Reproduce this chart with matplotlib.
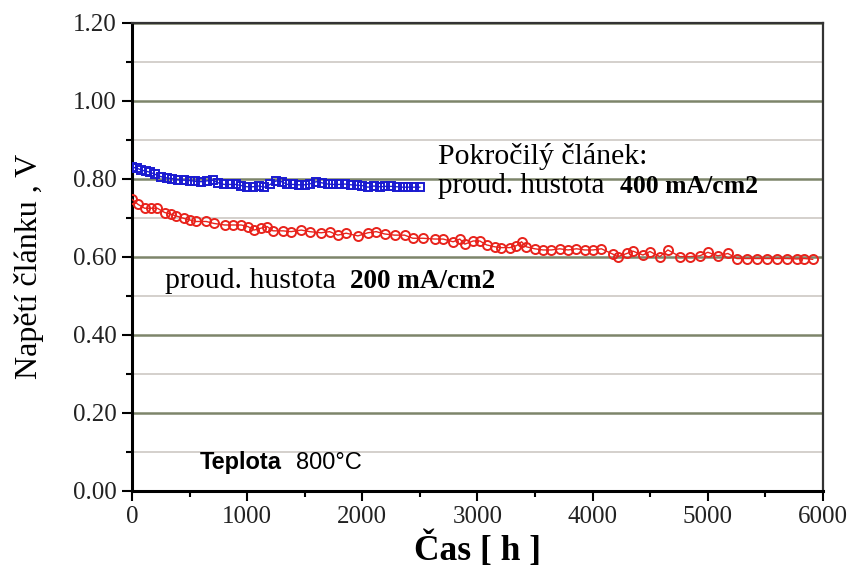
import numpy as np
from matplotlib import pyplot as plt
from matplotlib.ticker import MultipleLocator, FormatStrFormatter

# pokrocily clanek, 400 mA/cm2
t_blue = [0, 40, 80, 120, 160, 200, 250, 300, 350, 400, 450, 500, 550, 600,
          650, 700, 750, 800, 850, 900, 950, 1000, 1050, 1100, 1150, 1200,
          1250, 1300, 1350, 1400, 1450, 1500, 1550, 1600, 1650, 1700, 1750,
          1800, 1850, 1900, 1950, 2000, 2050, 2100, 2150, 2200, 2250, 2300,
          2350, 2400, 2450, 2500]
u_blue = [0.830, 0.828, 0.823, 0.820, 0.817, 0.812, 0.806, 0.803, 0.801, 0.798,
          0.797, 0.796, 0.794, 0.793, 0.795, 0.797, 0.790, 0.786, 0.786, 0.786,
          0.783, 0.780, 0.780, 0.782, 0.779, 0.786, 0.795, 0.793, 0.786, 0.786,
          0.785, 0.785, 0.788, 0.793, 0.790, 0.787, 0.786, 0.786, 0.787, 0.785,
          0.784, 0.783, 0.779, 0.782, 0.780, 0.781, 0.781, 0.780, 0.779, 0.779,
          0.779, 0.779]

# standardni clanek, 200 mA/cm2
t_red = [0, 52, 110, 162, 220, 284, 336, 385, 451, 501, 553, 645, 712, 805,
         877, 949, 1007, 1059, 1122, 1174, 1224, 1311, 1383, 1470, 1542, 1643,
         1716, 1788, 1860, 1962, 2048, 2121, 2194, 2280, 2367, 2439, 2526, 2630,
         2702, 2789, 2847, 2890, 2963, 3021, 3079, 3151, 3209, 3281, 3339, 3383,
         3426, 3498, 3570, 3643, 3715, 3787, 3860, 3932, 4004, 4077, 4178, 4220,
         4298, 4350, 4437, 4498, 4584, 4654, 4758, 4845, 4931, 5001, 5088, 5175,
         5253, 5340, 5427, 5513, 5600, 5687, 5774, 5840, 5911]
u_red = [0.748, 0.735, 0.725, 0.725, 0.725, 0.714, 0.710, 0.705, 0.699, 0.695,
         0.691, 0.691, 0.686, 0.682, 0.682, 0.682, 0.678, 0.669, 0.674, 0.678,
         0.667, 0.667, 0.665, 0.669, 0.665, 0.662, 0.665, 0.656, 0.661, 0.654,
         0.662, 0.665, 0.659, 0.656, 0.656, 0.648, 0.648, 0.646, 0.646, 0.639,
         0.646, 0.633, 0.641, 0.641, 0.631, 0.626, 0.624, 0.624, 0.629, 0.639,
         0.626, 0.621, 0.618, 0.618, 0.621, 0.618, 0.621, 0.618, 0.618, 0.621,
         0.607, 0.601, 0.609, 0.615, 0.605, 0.614, 0.601, 0.618, 0.601, 0.601,
         0.603, 0.612, 0.603, 0.609, 0.596, 0.596, 0.596, 0.596, 0.596, 0.596,
         0.595, 0.596, 0.594]

serif = 'Liberation Serif'

fig = plt.figure(figsize=(8.53, 5.74), dpi=100)
ax = fig.add_axes([0.1547, 0.1446, 0.81, 0.8154])

ax.set_xlim(0, 6000)
ax.set_ylim(0, 1.2)

# horizontal grid: major every 0.2, minor every 0.1
ax.yaxis.set_major_locator(MultipleLocator(0.2))
ax.yaxis.set_minor_locator(MultipleLocator(0.1))
ax.xaxis.set_major_locator(MultipleLocator(1000))
ax.xaxis.set_minor_locator(MultipleLocator(500))
ax.yaxis.set_major_formatter(FormatStrFormatter('%.2f'))
ax.grid(axis='y', which='major', color='#7d856a', lw=1.8, zorder=0)
ax.grid(axis='y', which='minor', color='#d4d0cc', lw=1.4, zorder=0)
ax.set_axisbelow(True)

ax.plot(t_red, u_red, color='#e8231c', lw=1.0, marker='o', ms=6.5,
        mfc='none', mec='#e8231c', mew=1.4, zorder=3)
ax.plot(t_blue, u_blue, color='#1a1ad0', lw=1.0, marker='s', ms=6,
        mfc='none', mec='#1a1ad0', mew=1.4, zorder=3)

for s in ['left', 'bottom']:
    ax.spines[s].set_linewidth(2.2)
    ax.spines[s].set_color('black')
for s in ['top', 'right']:
    ax.spines[s].set_linewidth(1.6)
    ax.spines[s].set_color('#333333')

ax.tick_params(which='major', direction='out', length=7, width=1.5,
               labelsize=18, pad=4)
ax.tick_params(which='minor', direction='out', length=4, width=1.5)
ax.tick_params(top=False, right=False, which='both')
for lb in ax.get_xticklabels() + ax.get_yticklabels():
    lb.set_fontfamily(serif)
    lb.set_color('#222222')

ax.set_ylabel('Napětí článku , V', fontsize=23, family=serif)
ax.yaxis.set_label_coords(-0.128, 0.479)
ax.set_xlabel('Čas [ h ]', fontsize=25.5, family=serif, fontweight='bold',
              labelpad=2)

# popisky
ax.text(2656, 0.838, 'Pokročilý článek:', fontsize=21.5, family=serif,
        va='baseline')
ax.text(2656, 0.764, 'proud. hustota', fontsize=21, family=serif,
        va='baseline')
ax.text(4236, 0.764, '400 mA/cm2', fontsize=18.5, family=serif,
        fontweight='bold', va='baseline')
ax.text(290, 0.52, 'proud. hustota', fontsize=21.5, family=serif,
        va='baseline')
ax.text(1892, 0.52, '200 mA/cm2', fontsize=19.5, family=serif,
        fontweight='bold', va='baseline')
ax.text(590, 0.056, 'Teplota', fontsize=17, family='Liberation Sans',
        va='baseline', fontweight='bold')
ax.text(1424, 0.056, '800°C', fontsize=17, family='Liberation Sans',
        va='baseline')

fig.savefig('out.png', dpi=100)
